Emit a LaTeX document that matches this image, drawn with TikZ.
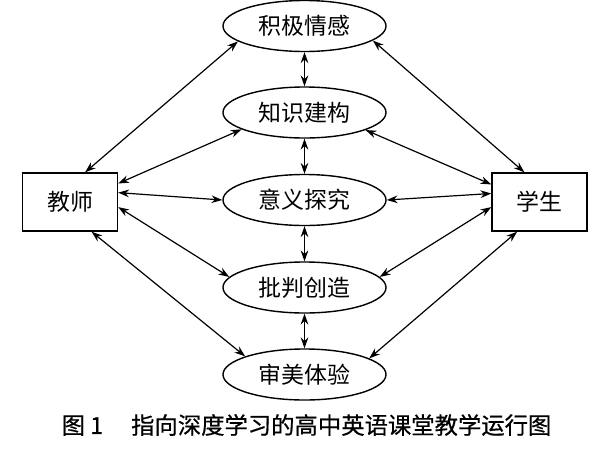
\documentclass[tikz,border=0pt]{standalone}
\usepackage{fontspec}
\setmainfont{Noto Sans CJK SC}
\newfontfamily\capfont{Noto Sans CJK SC}[FakeBold=0.6]
\usetikzlibrary{shapes.geometric,arrows.meta}

\begin{document}
\begin{tikzpicture}[x=0.025cm,y=-0.025cm,
  goal/.style={ellipse,draw,line width=1pt,minimum width=4.075cm,minimum height=1.275cm,inner sep=0pt,font=\fontsize{16.3}{18}\selectfont},
  role/.style={rectangle,draw,line width=1pt,minimum width=2.375cm,minimum height=1.45cm,inner sep=0pt,font=\fontsize{16.3}{18}\selectfont},
  link/.style={{Stealth[length=2.7mm,width=1.9mm]}-{Stealth[length=2.7mm,width=1.9mm]},line width=0.85pt}]
\useasboundingbox (0,0) rectangle (600,449);
\node [goal] (jiji) at (304.5,26) {积极情感};
\node [goal] (zhishi) at (304.5,112.5) {知识建构};
\node [goal] (yiyi) at (304.5,200) {意义探究};
\node [goal] (pipan) at (304.5,287.5) {批判创造};
\node [goal] (shenmei) at (304.5,374.5) {审美体验};
\node [role] (teacher) at (70,202) {教师};
\node [role] (student) at (539.5,202) {学生};
\draw [link] (jiji) -- (zhishi);
\draw [link] (zhishi) -- (yiyi);
\draw [link] (yiyi) -- (pipan);
\draw [link] (pipan) -- (shenmei);
\draw [link] (teacher.63) -- (jiji.193);
\draw [link] (teacher.21) -- (zhishi.195);
\draw [link] (teacher.11) -- (yiyi.west);
\draw [link] (teacher.-6) -- (pipan.172);
\draw [link] (teacher.-54) -- (shenmei.163);
\draw [link] (student.117) -- (jiji.348);
\draw [link] (student.160) -- (zhishi.344);
\draw [link] (student.170) -- (yiyi.east);
\draw [link] (student.186) -- (pipan.8);
\draw [link] (student.233) -- (shenmei.14);
\node [font=\capfont\fontsize{16.6}{18}\selectfont] (caption) at (306.5,425) {图 1\hspace{1.2em}指向深度学习的高中英语课堂教学运行图};
\end{tikzpicture}
\end{document}
